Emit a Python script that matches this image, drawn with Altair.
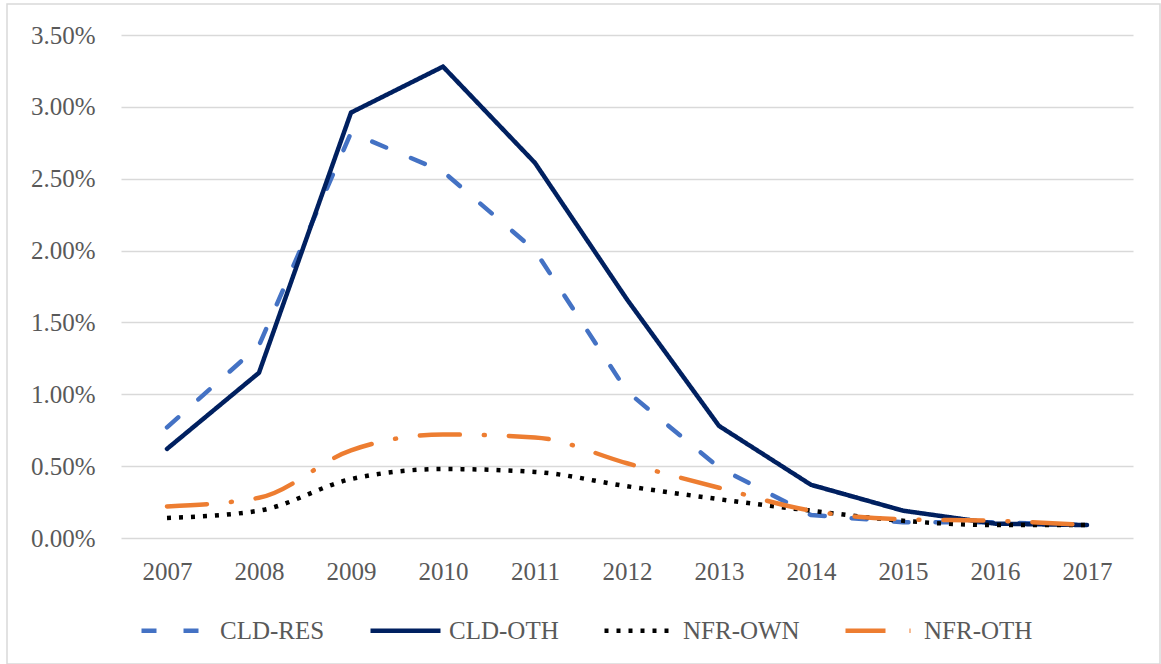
import altair as alt
import pandas as pd

# Loss rates by year, in percent
years = [2007, 2008, 2009, 2010, 2011, 2012, 2013, 2014, 2015, 2016, 2017]
cld_res = [0.77, 1.34, 2.82, 2.55, 2.00, 1.02, 0.49, 0.16, 0.11, 0.11, 0.09]
cld_oth = [0.62, 1.15, 2.96, 3.28, 2.61, 1.66, 0.78, 0.37, 0.19, 0.10, 0.09]
nfr_own = [0.14, 0.19, 0.41, 0.48, 0.46, 0.36, 0.27, 0.19, 0.12, 0.09, 0.09]
nfr_oth = [0.22, 0.28, 0.61, 0.72, 0.70, 0.52, 0.35, 0.19, 0.13, 0.12, 0.09]

series_names = ["CLD-RES", "CLD-OTH", "NFR-OWN", "NFR-OTH"]
series_values = [cld_res, cld_oth, nfr_own, nfr_oth]
series_colors = ["#4472C4", "#002060", "#000000", "#ED7D31"]
series_dashes = [[15, 27], [1, 0], [4, 8], [40, 24, 1, 24]]
y_ticks = [0, 0.005, 0.01, 0.015, 0.02, 0.025, 0.03, 0.035]

rows = []
for name, vals in zip(series_names, series_values):
    for yr, v in zip(years, vals):
        rows.append({"year": yr, "series": name, "value": v / 100})
df = pd.DataFrame(rows)

FONT = "Liberation Serif"
TEXT = "#595959"
GRID = "#D9D9D9"

x = alt.X(
    "year:O",
    scale=alt.Scale(type="point", padding=0.5),
    axis=alt.Axis(title=None, labelAngle=0, ticks=False, domain=False, grid=False,
                  labelPadding=21, labelFont=FONT, labelFontSize=25, labelColor=TEXT),
)
y = alt.Y(
    "value:Q",
    scale=alt.Scale(domain=[0, 0.035], nice=False),
    axis=alt.Axis(title=None, format=".2%", values=y_ticks, domain=False, ticks=False,
                  labelPadding=26, labelFont=FONT, labelFontSize=25, labelColor=TEXT,
                  gridColor=GRID, gridWidth=1.5),
)
color = alt.Color("series:N", title=None,
                  scale=alt.Scale(domain=series_names, range=series_colors))
dash = alt.StrokeDash("series:N", title=None,
                      scale=alt.Scale(domain=series_names, range=series_dashes))

base = alt.Chart(df).encode(x=x, y=y, color=color, strokeDash=dash)

cld = base.transform_filter(
    alt.FieldOneOfPredicate(field="series", oneOf=["CLD-RES", "CLD-OTH"])
).mark_line(strokeWidth=4.5, strokeCap="round", strokeJoin="round")

own = base.transform_filter(alt.datum.series == "NFR-OWN").mark_line(
    strokeWidth=4.5, strokeCap="butt", interpolate="monotone")

oth = base.transform_filter(alt.datum.series == "NFR-OTH").mark_line(
    strokeWidth=4.5, strokeCap="round", strokeJoin="round", interpolate="monotone")

# outer frame around the whole figure
frame = alt.Chart(alt.Data(values=[{}])).mark_rect(
    filled=False, stroke=GRID, strokeWidth=1.5, clip=False
).encode(x=alt.value(-114), x2=alt.value(1039), y=alt.value(-31), y2=alt.value(629))

chart = (
    alt.layer(frame, cld, own, oth)
    .properties(
        width=1012,
        height=503,
        padding={"left": 121, "top": 35, "right": 28, "bottom": 126},
        autosize=alt.AutoSizeParams(type="none"),
        background="white",
    )
    .configure_view(stroke=None)
    .configure_legend(
        orient="none",
        legendX=18,
        legendY=558,
        direction="horizontal",
        labelFont=FONT,
        labelFontSize=25,
        labelColor=TEXT,
        labelLimit=0,
        symbolType="stroke",
        symbolSize=4900,
        symbolStrokeWidth=4.5,
        labelOffset=6,
        columnPadding=36,
    )
)

chart.save("out.html", embed_options={"renderer": "svg", "actions": False})
